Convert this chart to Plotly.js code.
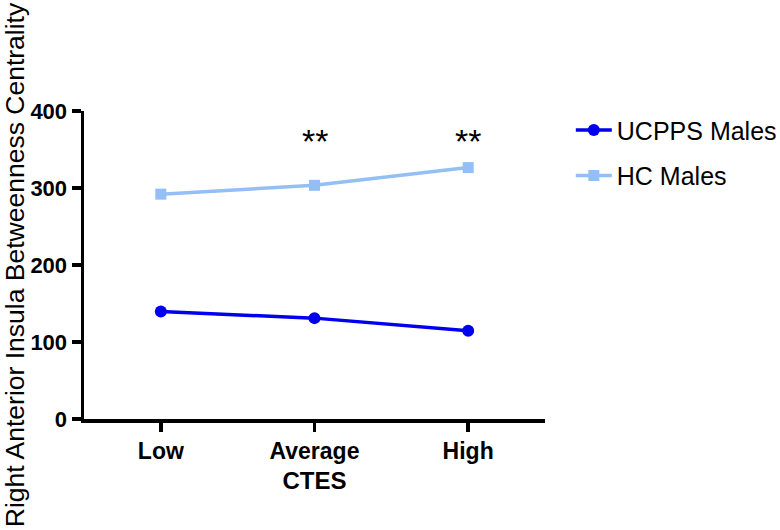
<!DOCTYPE html>
<html>
<head>
<meta charset="utf-8">
<script src="https://cdn.plot.ly/plotly-3.0.1.min.js"></script>
<style>html,body{margin:0;padding:0;background:#fff;}#chart{width:780px;height:530px;}</style>
</head>
<body>
<div id="chart"></div>
<script>
const categories = ["Low", "Average", "High"];
const ucppsMales = [139.5, 131, 114.5];
const hcMales = [292, 303.5, 326.5];
const sigLabels = ["", "**", "**"];
const sigHeight = 361;
const yTicks = [0, 100, 200, 300, 400];

const font = "Liberation Sans, Arial, Helvetica, sans-serif";

const traces = [
  {
    x: categories, y: ucppsMales, name: "UCPPS Males", type: "scatter", mode: "lines+markers",
    legendgroup: "a",
    line: {color: "#0000ee", width: 3.5},
    marker: {symbol: "circle", size: 12, color: "#0000ee"}
  },
  {
    x: categories, y: hcMales, name: "HC Males", type: "scatter", mode: "lines+markers",
    legendgroup: "b",
    line: {color: "#93bff5", width: 3.5},
    marker: {symbol: "square", size: 11, color: "#93bff5"}
  }
];

const annotations = categories.map((c, i) => ({
  x: c, y: sigHeight, xref: "x", yref: "y", text: sigLabels[i], showarrow: false,
  font: {family: font, size: 34, color: "#000"}
})).filter(a => a.text);

const layout = {
  width: 780, height: 530,
  margin: {l: 84, r: 235, t: 111, b: 111, pad: 0, autoexpand: false},
  paper_bgcolor: "#fff", plot_bgcolor: "#fff",
  showlegend: true,
  legend: {
    x: 1.056, y: 1.012, xanchor: "left", yanchor: "top",
    font: {family: font, size: 25, color: "#000"},
    traceorder: "grouped", tracegroupgap: 10, borderwidth: 0,
    itemwidth: 36
  },
  xaxis: {
    type: "category", range: [-0.5, 2.5],
    showline: true, linecolor: "#000", linewidth: 3.5,
    ticks: "outside", ticklen: 9, tickwidth: 3.5, tickcolor: "#000",
    showgrid: false, zeroline: false, automargin: false,
    tickfont: {family: font, size: 23, color: "#000", weight: "bold"},
    title: {text: "<b>CTES</b>", font: {family: font, size: 24, color: "#000"}, standoff: 10}
  },
  yaxis: {
    range: [0, 400], tickvals: yTicks, ticktext: yTicks.map(String),
    showline: true, linecolor: "#000", linewidth: 3.5,
    ticks: "outside", ticklen: 9, tickwidth: 3.5, tickcolor: "#000",
    showgrid: false, zeroline: false, automargin: false,
    tickfont: {family: font, size: 22, color: "#000", weight: "bold"},
    title: {text: "Right Anterior Insula Betweenness Centrality", font: {family: font, size: 26.5, color: "#000"}, standoff: 8}
  },
  annotations: annotations
};

Plotly.newPlot("chart", traces, layout, {displayModeBar: false, staticPlot: true});
</script>
</body>
</html>
